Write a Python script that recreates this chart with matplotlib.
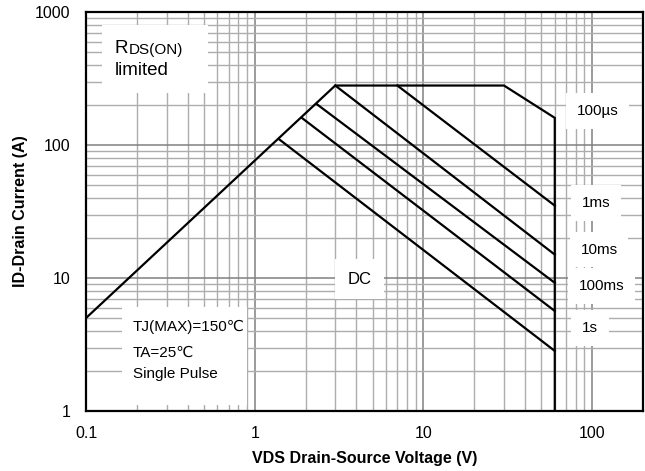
import matplotlib
matplotlib.use("Agg")
import matplotlib.pyplot as plt
from matplotlib.patches import Rectangle
from matplotlib.ticker import NullFormatter

plt.rcParams['font.family'] = ['Liberation Sans', 'DejaVu Sans']

# SOA outline: Rds(on) limit, current limit, 100us pulse, Vds limit
boundary_v = [0.1, 3, 30, 60, 60]
boundary_i = [5, 280, 280, 160, 1]

# pulse lines (start point -> end point at 60 V)
pulse_labels = ['1ms', '10ms', '100ms', '1s', 'DC']
pulse_v_start = [7, 3, 2.33, 1.9, 1.4]
pulse_i_start = [280, 280, 203, 160, 110]
pulse_v_end = [60, 60, 60, 60, 60]
pulse_i_end = [35, 15, 9.2, 5.65, 2.83]

x_ticks = [0.1, 1, 10, 100]
x_ticklabels = ['0.1', '1', '10', '100']
y_ticks = [1, 10, 100, 1000]
y_ticklabels = ['1', '10', '100', '1000']

fig = plt.figure(figsize=(6.45, 4.71), dpi=100)
ax = fig.add_axes([86 / 645, 60 / 471, 557 / 645, 399 / 471])

ax.set_xscale('log')
ax.set_yscale('log')
ax.set_xlim(0.1, 200)
ax.set_ylim(1, 1000)

ax.plot(boundary_v, boundary_i, color='black', lw=1.6, zorder=3,
        solid_joinstyle='miter')
for v0, i0, v1, i1 in zip(pulse_v_start, pulse_i_start, pulse_v_end, pulse_i_end):
    ax.plot([v0, v1], [i0, i1], color='black', lw=1.6, zorder=3)

# grid
ax.grid(which='major', color='#808080', lw=1.1, zorder=0)
ax.grid(which='minor', color='#adadad', lw=1.0, zorder=0)
ax.set_axisbelow(True)

ax.set_xticks(x_ticks)
ax.set_xticklabels(x_ticklabels)
ax.set_yticks(y_ticks)
ax.set_yticklabels(y_ticklabels)
ax.xaxis.set_minor_formatter(NullFormatter())
ax.yaxis.set_minor_formatter(NullFormatter())
ax.tick_params(which='both', length=0, labelsize=11.5, pad=11)

for s in ax.spines.values():
    s.set_linewidth(1.6)
    s.set_zorder(4)

ax.set_xlabel('VDS Drain-Source Voltage (V)', fontsize=11.5, fontweight='bold', labelpad=7)
ax.set_ylabel('ID-Drain Current (A)', fontsize=11.5, fontweight='bold', labelpad=5)

# white text boxes
ax.add_patch(Rectangle((0.0287, 0.797), 0.190, 0.170, transform=ax.transAxes,
                       facecolor='white', edgecolor='none', zorder=2))
ax.add_patch(Rectangle((0.0646, 0.015), 0.2244, 0.246, transform=ax.transAxes,
                       facecolor='white', edgecolor='none', zorder=2))

r = ax.text(0.0520, 0.897, 'R', transform=ax.transAxes, fontsize=13.5,
            va='baseline', zorder=2.5)
ax.annotate('DS(ON)', xy=(1, 0), xycoords=r, fontsize=11, va='bottom',
            ha='left', zorder=2.5)
ax.text(0.0520, 0.842, 'limited', transform=ax.transAxes, fontsize=13.5,
        va='baseline', zorder=2.5)

ax.text(0.0844, 0.2005, 'TJ(MAX)=150℃', transform=ax.transAxes, fontsize=11,
        va='baseline', zorder=2.5)
ax.text(0.0844, 0.1353, 'TA=25℃', transform=ax.transAxes, fontsize=11,
        va='baseline', zorder=2.5)
ax.text(0.0844, 0.0827, 'Single Pulse', transform=ax.transAxes, fontsize=11,
        va='baseline', zorder=2.5)

box = dict(boxstyle='square,pad=0.7', facecolor='white', edgecolor='none')
right_labels = ['100µs'] + pulse_labels[:4]
right_pos = [(0.919, 0.752), (0.916, 0.521), (0.921, 0.404), (0.926, 0.313), (0.905, 0.208)]
for lab, (fx, fy) in zip(right_labels, right_pos):
    ax.text(fx, fy, lab, transform=ax.transAxes, fontsize=11, ha='center',
            va='center', bbox=box, zorder=2.5)
ax.text(0.4919, 0.3308, pulse_labels[4], transform=ax.transAxes, fontsize=12,
        ha='center', va='center', bbox=dict(boxstyle='square,pad=0.75',
                                            facecolor='white', edgecolor='none'),
        zorder=2.5)

fig.savefig('out.png', dpi=100)
